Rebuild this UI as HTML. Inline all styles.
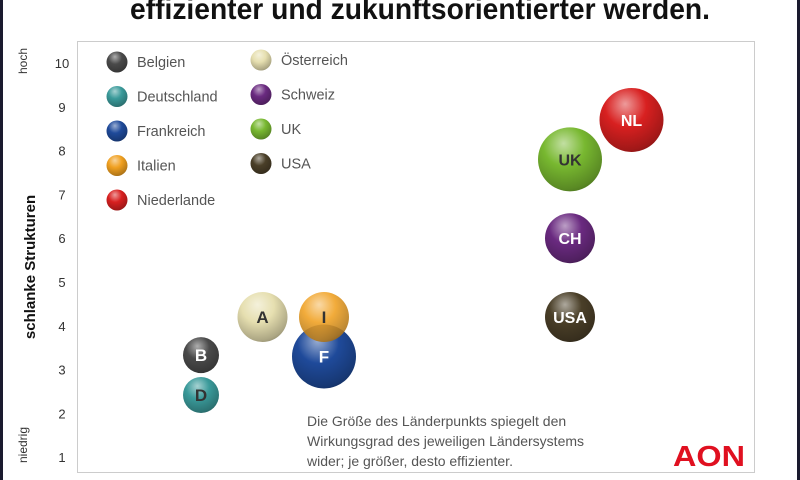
<!DOCTYPE html>
<html><head><meta charset="utf-8"><style>
html,body{margin:0;padding:0;background:#fff;}
svg{display:block;font-family:"Liberation Sans",sans-serif;}
</style></head><body>
<svg id="chart" width="800" height="480" viewBox="0 0 800 480" xmlns="http://www.w3.org/2000/svg">
<defs></defs>
<rect x="0" y="0" width="3" height="480" fill="#1a1a2e"/>
<rect x="797" y="0" width="3" height="480" fill="#1a1a2e"/>
<text x="420" y="19" text-anchor="middle" font-size="30" font-weight="bold" fill="#111" textLength="580" lengthAdjust="spacingAndGlyphs">effizienter und zukunftsorientierter werden.</text>
<rect x="77.5" y="41.5" width="677" height="431" fill="#fff" stroke="#ccc"/>
<text transform="translate(27,61) rotate(-90)" text-anchor="middle" font-size="12" fill="#333">hoch</text>
<text transform="translate(27,445) rotate(-90)" text-anchor="middle" font-size="12" fill="#333">niedrig</text>
<text transform="translate(35,267) rotate(-90)" text-anchor="middle" font-size="15" font-weight="bold" fill="#111">schlanke Strukturen</text>
<g id="ticks"></g>
<g id="legend"></g>
<g id="bubbles"></g>
<g font-size="14" fill="#555">
<text x="307" y="426">Die Größe des Länderpunkts spiegelt den</text>
<text x="307" y="446">Wirkungsgrad des jeweiligen Ländersystems</text>
<text x="307" y="466">wider; je größer, desto effizienter.</text>
</g>
<text x="673" y="466" font-size="29" font-weight="bold" fill="#e01020" textLength="72" lengthAdjust="spacingAndGlyphs">AON</text>
</svg>
<script>
const yTicks=[1,2,3,4,5,6,7,8,9,10];
const names=["Belgien","Deutschland","Frankreich","Italien","Niederlande","Österreich","Schweiz","UK","USA"];
const labels=["B","D","F","I","NL","A","CH","UK","USA"];
const xVals=[2,2,4,4,9,3,8,8,8];
const yVals=[3.33,2.42,3.3,4.2,8.7,4.2,6.0,7.8,4.2];
const sizes=[18,18,32,25,32,25,25,32,25];
const colors=["#4a4a4a","#3a9a9a","#1f4a9a","#f0a020","#d82020","#e6dfb0","#6a2a80","#78b830","#4a3f28"];
const textColors=["#fff","#333","#fff","#333","#fff","#333","#fff","#333","#fff"];
const ns="http://www.w3.org/2000/svg";
const X=v=>78+v*61.5, Y=v=>63+(10-v)*43.8;
const svg=document.getElementById('chart'),defs=svg.querySelector('defs');
function mk(t,a,p){const e=document.createElementNS(ns,t);for(const k in a)e.setAttribute(k,a[k]);p.appendChild(e);return e;}
function mix(c,t,f){const n=parseInt(c.slice(1),16);const r=n>>16,g=(n>>8)&255,b=n&255;const T=t?255:0;
return 'rgb('+Math.round(r+(T-r)*f)+','+Math.round(g+(T-g)*f)+','+Math.round(b+(T-b)*f)+')';}
colors.forEach((c,i)=>{const g=mk('radialGradient',{id:'g'+i,cx:'0.42',cy:'0.32',r:'0.72',fx:'0.4',fy:'0.25'},defs);
mk('stop',{offset:'0','stop-color':mix(c,1,0.55)},g);
mk('stop',{offset:'0.45','stop-color':c},g);
mk('stop',{offset:'0.9','stop-color':mix(c,0,0.25)},g);
mk('stop',{offset:'1','stop-color':mix(c,0,0.35)},g);});
const tg=document.getElementById('ticks');
yTicks.forEach(v=>{const t=mk('text',{x:62,y:Y(v)+5,'text-anchor':'middle','font-size':13,fill:'#333'},tg);t.textContent=v;

});
const lg=document.getElementById('legend');
names.forEach((n,i)=>{const col=i<5?0:1,row=i<5?i:i-5;const cx=col?261:117,cy=(col?60:62)+row*34.5;
const g=mk('g',{},lg);


mk('circle',{cx:cx,cy:cy,r:10.5,fill:'url(#g'+i+')'},g);
const t=mk('text',{x:cx+20,y:cy+5,'font-size':14.5,fill:'#555'},g);t.textContent=n;});
const bg=document.getElementById('bubbles');
const order=[0,1,5,2,3,8,6,7,4];
order.forEach(i=>{const g=mk('g',{},bg);


mk('circle',{cx:X(xVals[i]),cy:Y(yVals[i]),r:sizes[i],fill:'url(#g'+i+')',opacity:i==3?0.88:1},g);
const t=mk('text',{x:X(xVals[i]),y:Y(yVals[i])+6,'text-anchor':'middle','font-size':labels[i].length>1?16:17,'font-weight':'bold',fill:textColors[i]},g);t.textContent=labels[i];});
</script>
</body></html>
